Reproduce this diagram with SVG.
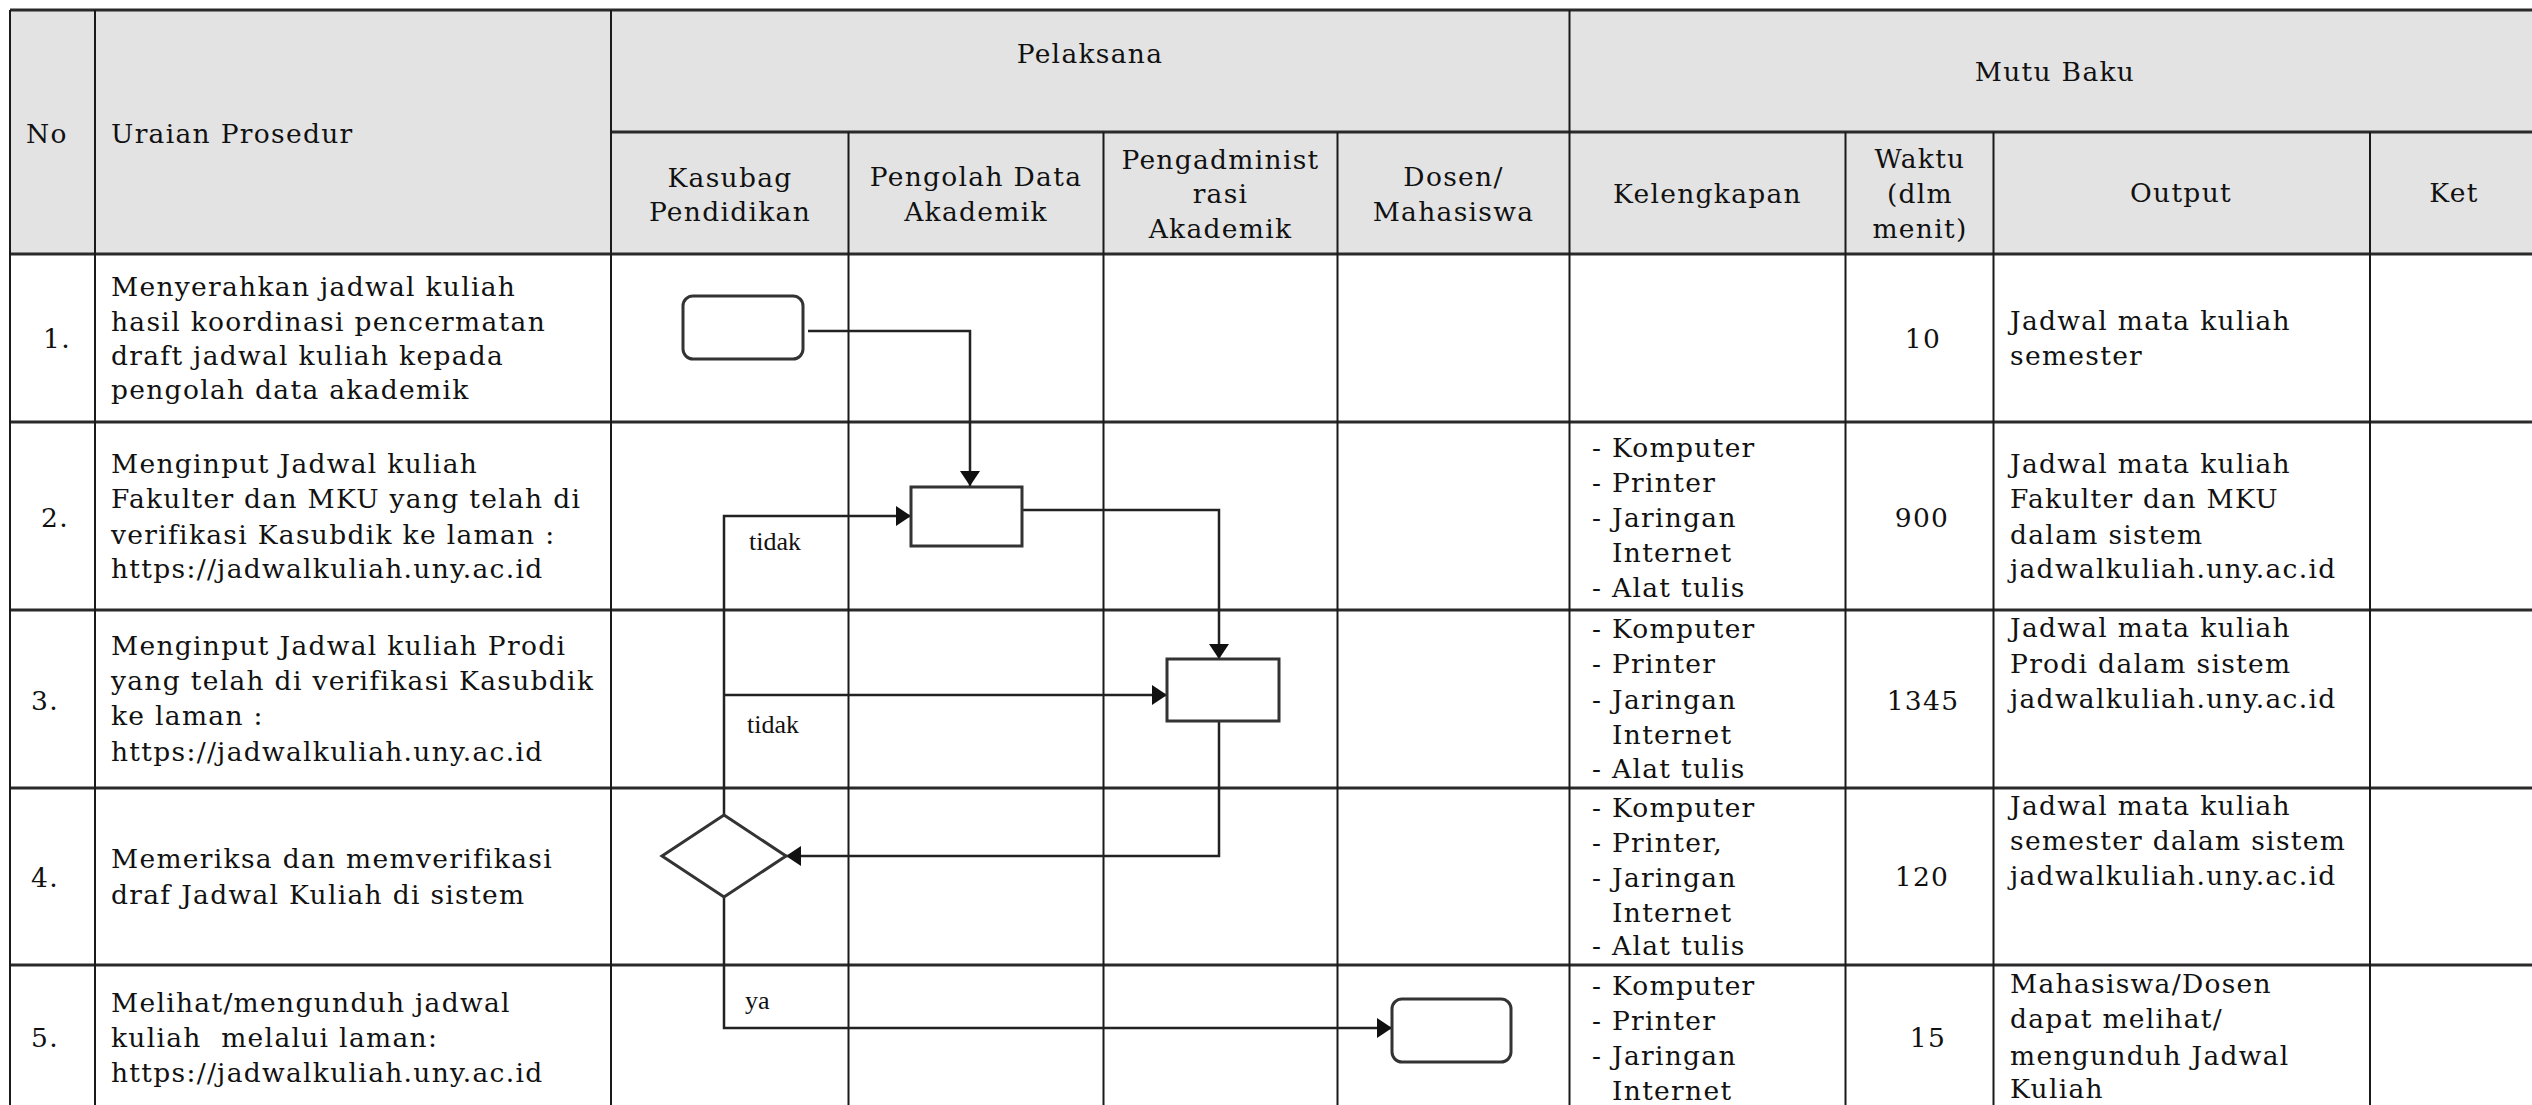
<svg xmlns="http://www.w3.org/2000/svg" width="2532" height="1105" viewBox="0 0 2532 1105">
<defs>
<style>
.t{font-family:"DejaVu Serif","Liberation Serif",serif;font-size:26.5px;letter-spacing:1.3px;fill:#111}
.c{text-anchor:middle}
.lbl{font-family:"Liberation Serif",serif;font-size:26px;fill:#111}
.hl{stroke:#2a2a2a;stroke-width:3;fill:none}
.vl{stroke:#1a1a1a;stroke-width:2;fill:none}
.box{fill:#fff;stroke:#333;stroke-width:3}
.con{fill:none;stroke:#222;stroke-width:2.5}
</style>
<marker id="arr" markerUnits="userSpaceOnUse" markerWidth="16" markerHeight="20" refX="15" refY="10" orient="auto">
<path d="M0,0 L15,10 L0,20 z" fill="#111"/>
</marker>
</defs>
<rect width="2532" height="1105" fill="#fff"/>
<g id="table">
<rect x="10" y="10" width="2522" height="244" fill="#e3e3e3"/>
<path class="hl" d="M10,10 H2532 M611,132 H2532 M10,254 H2532 M10,422 H2532 M10,610 H2532 M10,788 H2532 M10,965 H2532"/>
<path class="vl" d="M10,10 V1105 M95,10 V1105 M611,10 V1105 M848.5,132 V1105 M1103.5,132 V1105 M1337.5,132 V1105 M1569.5,10 V1105 M1845.5,132 V1105 M1993.5,132 V1105 M2370,132 V1105"/>
</g>
<g id="header">
<text class="t" x="26" y="143">No</text>
<text class="t" x="111" y="143">Uraian Prosedur</text>
<text class="t c" x="1090" y="63">Pelaksana</text>
<text class="t c" x="2055" y="81">Mutu Baku</text>
<text class="t c" x="730" y="187">Kasubag</text>
<text class="t c" x="730" y="221">Pendidikan</text>
<text class="t c" x="976" y="186">Pengolah Data</text>
<text class="t c" x="976" y="221">Akademik</text>
<text class="t c" x="1220.5" y="169">Pengadminist</text>
<text class="t c" x="1220.5" y="203">rasi</text>
<text class="t c" x="1220.5" y="238">Akademik</text>
<text class="t c" x="1453.5" y="186">Dosen/</text>
<text class="t c" x="1453.5" y="221">Mahasiswa</text>
<text class="t c" x="1707.5" y="203">Kelengkapan</text>
<text class="t c" x="1920" y="168">Waktu</text>
<text class="t c" x="1920" y="203">(dlm</text>
<text class="t c" x="1920" y="238">menit)</text>
<text class="t c" x="2181" y="202">Output</text>
<text class="t c" x="2454" y="202">Ket</text>
</g>
<g id="row1">
<text class="t" x="43" y="348">1.</text>
<text class="t" x="111" y="296">Menyerahkan jadwal kuliah</text>
<text class="t" x="111" y="331">hasil koordinasi pencermatan</text>
<text class="t" x="111" y="365">draft jadwal kuliah kepada</text>
<text class="t" x="111" y="399">pengolah data akademik</text>
<text class="t c" x="1923" y="348">10</text>
<text class="t" x="2010" y="330">Jadwal mata kuliah</text>
<text class="t" x="2010" y="365">semester</text>
</g>
<g id="row2">
<text class="t" x="41" y="527">2.</text>
<text class="t" x="111" y="473">Menginput Jadwal kuliah</text>
<text class="t" x="111" y="508">Fakulter dan MKU yang telah di</text>
<text class="t" x="111" y="544">verifikasi Kasubdik ke laman :</text>
<text class="t" x="111" y="578">https://jadwalkuliah.uny.ac.id</text>
<text class="t" x="1592" y="457">- Komputer</text>
<text class="t" x="1592" y="492">- Printer</text>
<text class="t" x="1592" y="527">- Jaringan</text>
<text class="t" x="1612" y="562">Internet</text>
<text class="t" x="1592" y="597">- Alat tulis</text>
<text class="t c" x="1922" y="527">900</text>
<text class="t" x="2010" y="473">Jadwal mata kuliah</text>
<text class="t" x="2010" y="508">Fakulter dan MKU</text>
<text class="t" x="2010" y="544">dalam sistem</text>
<text class="t" x="2010" y="578">jadwalkuliah.uny.ac.id</text>
</g>
<g id="row3">
<text class="t" x="31" y="710">3.</text>
<text class="t" x="111" y="655">Menginput Jadwal kuliah Prodi</text>
<text class="t" x="111" y="690">yang telah di verifikasi Kasubdik</text>
<text class="t" x="111" y="725">ke laman :</text>
<text class="t" x="111" y="761">https://jadwalkuliah.uny.ac.id</text>
<text class="t" x="1592" y="638">- Komputer</text>
<text class="t" x="1592" y="673">- Printer</text>
<text class="t" x="1592" y="709">- Jaringan</text>
<text class="t" x="1612" y="744">Internet</text>
<text class="t" x="1592" y="778">- Alat tulis</text>
<text class="t c" x="1923" y="710">1345</text>
<text class="t" x="2010" y="637">Jadwal mata kuliah</text>
<text class="t" x="2010" y="673">Prodi dalam sistem</text>
<text class="t" x="2010" y="708">jadwalkuliah.uny.ac.id</text>
</g>
<g id="row4">
<text class="t" x="31" y="887">4.</text>
<text class="t" x="111" y="868">Memeriksa dan memverifikasi</text>
<text class="t" x="111" y="904">draf Jadwal Kuliah di sistem</text>
<text class="t" x="1592" y="817">- Komputer</text>
<text class="t" x="1592" y="852">- Printer,</text>
<text class="t" x="1592" y="887">- Jaringan</text>
<text class="t" x="1612" y="922">Internet</text>
<text class="t" x="1592" y="955">- Alat tulis</text>
<text class="t c" x="1922" y="886">120</text>
<text class="t" x="2010" y="815">Jadwal mata kuliah</text>
<text class="t" x="2010" y="850">semester dalam sistem</text>
<text class="t" x="2010" y="885">jadwalkuliah.uny.ac.id</text>
</g>
<g id="row5">
<text class="t" x="31" y="1047">5.</text>
<text class="t" x="111" y="1012">Melihat/mengunduh jadwal</text>
<text class="t" x="111" y="1047" xml:space="preserve">kuliah  melalui laman:</text>
<text class="t" x="111" y="1082">https://jadwalkuliah.uny.ac.id</text>
<text class="t" x="1592" y="995">- Komputer</text>
<text class="t" x="1592" y="1030">- Printer</text>
<text class="t" x="1592" y="1065">- Jaringan</text>
<text class="t" x="1612" y="1100">Internet</text>
<text class="t c" x="1928" y="1047">15</text>
<text class="t" x="2010" y="993">Mahasiswa/Dosen</text>
<text class="t" x="2010" y="1028">dapat melihat/</text>
<text class="t" x="2010" y="1065">mengunduh Jadwal</text>
<text class="t" x="2010" y="1098">Kuliah</text>
</g>
<g id="connectors">
<path class="con" d="M808,331 H970 V486" marker-end="url(#arr)"/>
<path class="con" d="M1022,510 H1219 V659" marker-end="url(#arr)"/>
<path class="con" d="M1219,721 V856 H786" marker-end="url(#arr)"/>
<path class="con" d="M724,815 V516 H911" marker-end="url(#arr)"/>
<path class="con" d="M724,695 H1167" marker-end="url(#arr)"/>
<path class="con" d="M724,897 V1028 H1392" marker-end="url(#arr)"/>
<text class="lbl" x="749" y="550">tidak</text>
<text class="lbl" x="747" y="733">tidak</text>
<text class="lbl" x="745" y="1009">ya</text>
</g>
<g id="n1"><rect class="box" x="683" y="296" width="120" height="63" rx="10"/></g>
<g id="n2"><rect class="box" x="911" y="487" width="111" height="59"/></g>
<g id="n3"><rect class="box" x="1167" y="659" width="112" height="62"/></g>
<g id="n4"><polygon class="box" points="724,815 786,856 724,897 662,856"/></g>
<g id="n5"><rect class="box" x="1392" y="999" width="119" height="63" rx="10"/></g>
</svg>
